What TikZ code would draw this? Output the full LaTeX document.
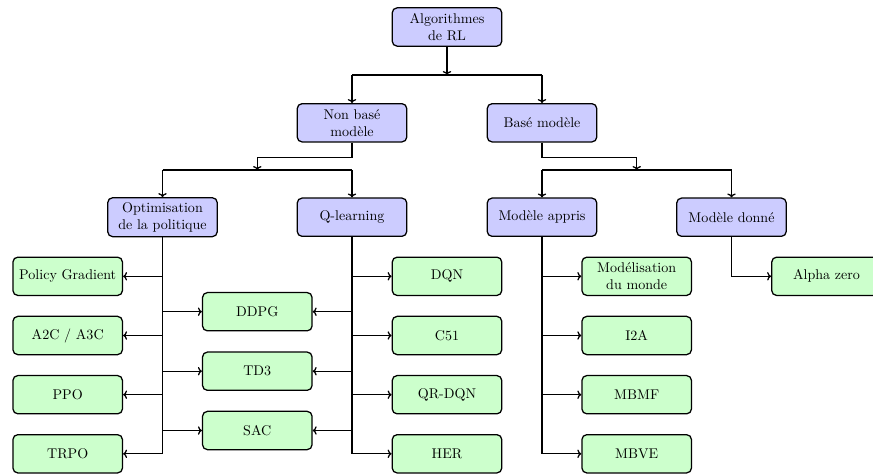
\documentclass[tikz,border=0pt]{standalone}
\usetikzlibrary{arrows.meta}
\begin{document}
\begin{tikzpicture}[x=0.71pt,y=-0.71pt,
  box/.style={draw, line width=0.9pt, rounded corners=3.5pt, text width=2.5cm, align=center, minimum height=27.2pt, inner sep=3.33pt},
  catbox/.style={box, fill=blue!20},
  leafbox/.style={box, fill=green!20},
  conn/.style={line width=0.9pt},
  arr/.style={line width=0.9pt, -{To[length=2.8pt,width=6pt]}}]
\useasboundingbox (0,0) rectangle (873,473);
% nodes
\node[catbox] (root) at (447,27) {Algorithmes\\de RL};
\node[catbox] (nb) at (352,122.8) {Non basé\\modèle};
\node[catbox] (bm) at (542,122.8) {Basé modèle};
\node[catbox] (op) at (162.5,217.2) {Optimisation\\de la politique};
\node[catbox] (ql) at (352,217.2) {Q-learning};
\node[catbox] (ma) at (542,217.2) {Modèle appris};
\node[catbox] (md) at (731.5,217.2) {Modèle donné};
\node[leafbox] (pg) at (67.7,276.3) {Policy Gradient};
\node[leafbox] (a2c) at (67.7,335.5) {A2C / A3C};
\node[leafbox] (ppo) at (67.7,394.7) {PPO};
\node[leafbox] (trpo) at (67.7,453.8) {TRPO};
\node[leafbox] (ddpg) at (257.3,311.7) {DDPG};
\node[leafbox] (td3) at (257.3,371.2) {TD3};
\node[leafbox] (sac) at (257.3,430.5) {SAC};
\node[leafbox] (dqn) at (447,276.3) {DQN};
\node[leafbox] (c51) at (447,335.5) {C51};
\node[leafbox] (qr) at (447,394.7) {QR-DQN};
\node[leafbox] (her) at (447,453.8) {HER};
\node[leafbox] (mm) at (636.7,276.3) {Modélisation\\du monde};
\node[leafbox] (i2a) at (636.7,335.5) {I2A};
\node[leafbox] (mbmf) at (636.7,394.7) {MBMF};
\node[leafbox] (mbve) at (636.7,453.8) {MBVE};
\node[leafbox] (az) at (826.5,276.3) {Alpha zero};
% junction coordinates
\coordinate (j0) at (447,75);
\coordinate (k1) at (257.3,157.5);
\coordinate (j1) at (257.3,170);
\coordinate (k2) at (636.7,157.5);
\coordinate (j2) at (636.7,170);
% level 1
\draw[arr] (root.south) -- (j0);
\draw[conn] (j0 -| nb) -- (j0 -| bm);
\draw[arr] (j0 -| nb) -- (nb.north);
\draw[arr] (j0 -| bm) -- (bm.north);
% level 2
\draw[arr] (nb.south) |- (k1) -- (j1);
\draw[conn] (j1 -| op) -- (j1 -| ql);
\draw[arr] (j1 -| op) -- (op.north);
\draw[arr] (j1 -| ql) -- (ql.north);
\draw[arr] (bm.south) |- (k2) -- (j2);
\draw[conn] (j2 -| ma) -- (j2 -| md);
\draw[arr] (j2 -| ma) -- (ma.north);
\draw[arr] (j2 -| md) -- (md.north);
% policy optimisation
\draw[conn] (op.south) -- (op |- trpo);
\foreach \n in {pg,a2c,ppo,trpo} \draw[arr] (op |- \n) -- (\n.east);
\foreach \n in {ddpg,td3,sac} \draw[arr] (op |- \n) -- (\n.west);
% Q-learning
\draw[conn] (ql.south) -- (ql |- her);
\foreach \n in {dqn,c51,qr,her} \draw[arr] (ql |- \n) -- (\n.west);
\foreach \n in {ddpg,td3,sac} \draw[arr] (ql |- \n) -- (\n.east);
% model learned
\draw[conn] (ma.south) -- (ma |- mbve);
\foreach \n in {mm,i2a,mbmf,mbve} \draw[arr] (ma |- \n) -- (\n.west);
% model given
\draw[arr] (md.south) |- (az.west);
\end{tikzpicture}
\end{document}
